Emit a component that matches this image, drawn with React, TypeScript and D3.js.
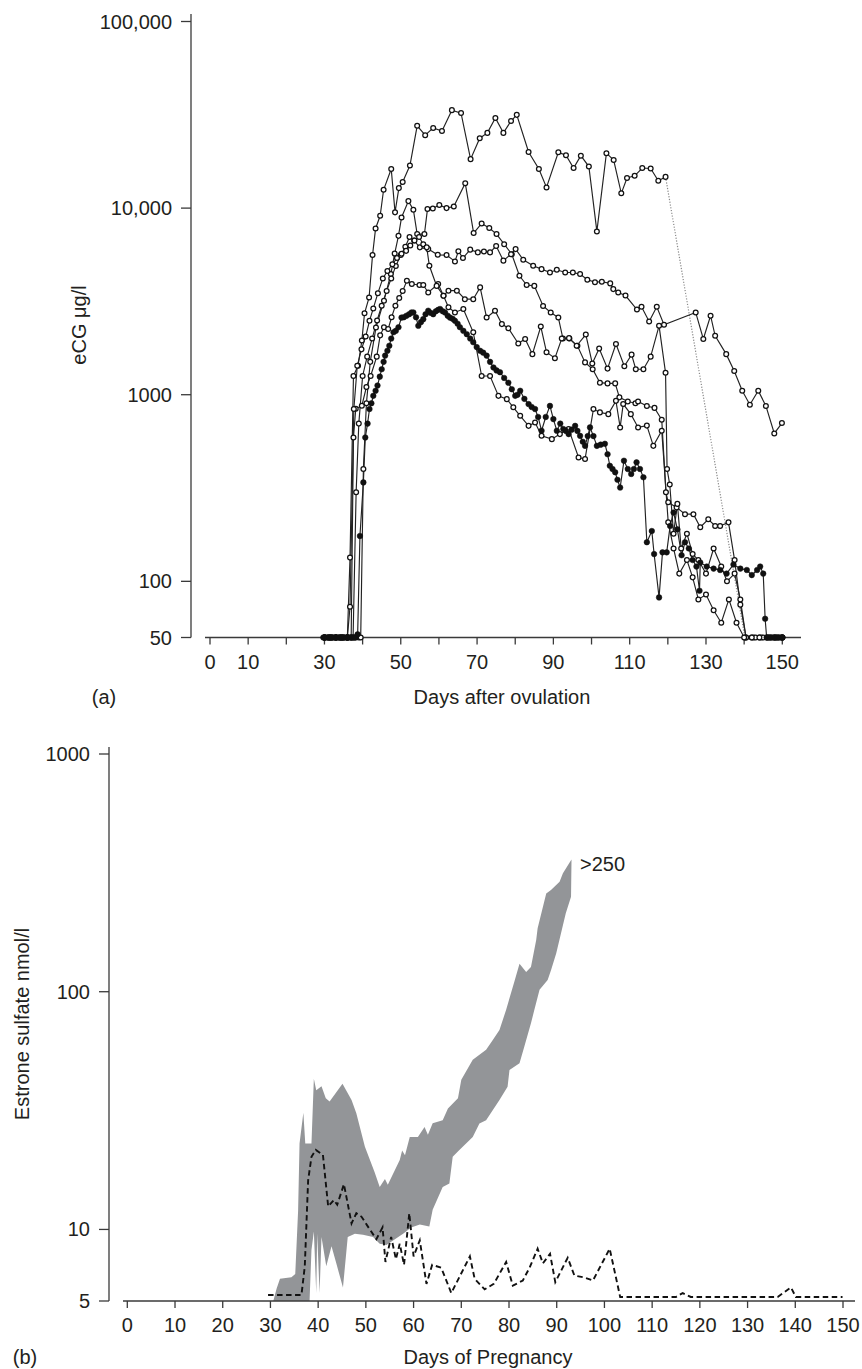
import React from 'react';
import * as d3 from 'd3';

type P = [number, number];

// ---------- Panel (a): eCG (µg/l) per mare, days after ovulation ----------
const mareA: P[] = [[30,50],[31,50],[32,50],[33,50],[34,50],[35,50],[36,50],[36.7,134],[37.6,1260],[38.8,1430],[39.8,1950],[40.5,2730],[41.7,3320],[42.6,5600],[43.4,7780],[44.6,9100],[45.5,12540],[47.5,16200],[48.5,9490],[49.5,12800],[50.5,13800],[52.4,16900],[54.3,27600],[56.4,24600],[58.5,26900],[60.8,25900],[63.4,33500],[65.8,32300],[68.3,18300],[70.7,23700],[72.7,25300],[74.8,30400],[76.9,25300],[78.9,29300],[80.4,31600],[83.5,20000],[86.2,16200],[88.2,12900],[91.3,19900],[93.3,19200],[95.3,16400],[97.2,19100],[99.3,16700],[101.4,7500],[103.9,19700],[105.8,18100],[107.8,12000],[109.3,14500],[111.3,14900],[113.3,16400],[115.5,16300],[117.5,14000],[119.4,14700]];
const mareATail: P[] = [[140.2,50],[142,50],[144,50],[146,50],[148,50],[150,50]];
const mareALink: P[] = [[119.4,14700],[140.2,50]];

const mareB: P[] = [[30,50],[31,50],[32,50],[33,50],[34,50],[35,50],[36,50],[37,50],[38,50],[39,50],[39.5,50],[40.2,400],[41,900],[42,1500],[43.5,2290],[45.6,3190],[47.4,4430],[48.4,5710],[49.4,7100],[50.2,8910],[52,10900],[53.3,9800],[54.3,7260],[56.2,7260],[57,9880],[58.4,9960],[60.1,10400],[62,10000],[63.9,10200],[66.9,13600],[69.1,7350],[71.2,8280],[73.2,7820],[75.1,7260],[77.1,6410],[79.1,5660],[81.1,4340],[83,3870],[85,3830],[87.3,2990],[89.3,2760],[91.3,2590],[92.5,2000],[94.2,2000],[96.3,1830],[98.3,1490],[100.3,1370],[102.2,1160],[104.2,1150],[106.2,1150],[107.3,968],[109.5,920],[111.5,900],[112.2,920],[114.5,870],[116.5,850],[118.4,735],[119.5,300],[120.1,265],[122.3,249],[124.5,229],[126.7,229],[128.5,195],[130.6,215],[132.4,198],[133.7,198],[135.9,207],[137.5,130],[139,75],[140.5,50],[142.5,50],[144.5,50],[146.5,50],[148.5,50],[150,50]];

const mareC: P[] = [[30,50],[31.5,50],[33,50],[34.5,50],[36,50],[37.5,50],[38.3,300],[39,700],[40,1260],[41.2,1600],[42.5,2000],[43.8,2500],[45,3000],[46.3,3600],[47.5,4200],[48.7,4900],[50,5600],[51.2,6200],[52.3,7000],[53.5,6700],[55,6160],[57.2,6030],[59.7,5620],[62,5600],[64.2,5180],[65.1,5870],[66.3,5400],[68.2,5990],[70.2,5790],[71.8,5860],[73.4,5790],[75,6260],[76.9,5230],[78.9,5660],[80.1,6030],[82.1,5290],[84.7,4910],[86.9,4710],[89.1,4520],[90.9,4670],[93.1,4520],[95.1,4520],[97,4430],[98.9,4130],[100.9,4010],[102.7,4030],[104.9,3950],[105.7,3680],[107,3530],[108.9,3400],[111.9,2860],[113.1,2960],[115.1,2470],[117.1,2960],[119,2370],[127.3,2760],[129.3,1990],[131.2,2650],[132.4,2070],[135.3,1650],[137.4,1340],[139.5,1050],[141.5,884],[143.7,1050],[145.7,871],[147.9,620],[149.9,705]];

const mareD: P[] = [[30,50],[31.5,50],[33,50],[34.5,50],[36,50],[37,50],[37.6,590],[38.2,840],[39.8,873],[41,1100],[42.1,1260],[43.7,1600],[44.6,2080],[45.6,2300],[46.7,2250],[47.6,2600],[48.6,3000],[49.6,3300],[50.5,3600],[51.6,4080],[52.9,3920],[54.9,3870],[55.9,3870],[57.2,3530],[59.8,3920],[61.2,3390],[62.5,3610],[64.7,3610],[66.8,3250],[69,3250],[70.8,3760],[72.5,2590],[74.7,2820],[76.5,2390],[78.2,2270],[80.8,1880],[82.6,1990],[84.5,1650],[86.7,2320],[88.2,1690],[90.4,1570],[92.2,2000],[94.1,2010],[96.1,1830],[98.5,2100],[100.2,1470],[102,1770],[104.2,1380],[106.4,1870],[108.6,1420],[110.5,1640],[111.6,1370],[113.6,1370],[115.5,1600],[117.7,2340],[119.4,1310],[119.8,400],[120.5,330],[121.5,180],[122.5,260],[123.5,150],[125,180],[126.5,140],[128,130],[130,110],[132,150],[134,120],[135.5,100],[137.5,110],[139,80],[140.5,50],[143,50],[145,50],[147,50],[149,50],[150,50]];

const mareE: P[] = [[30,50],[31.5,50],[33,50],[34.5,50],[36,50],[36.7,73],[37.7,838],[38.6,1430],[39.7,1750],[40.8,2050],[41.8,2490],[42.8,2900],[44,3500],[45.3,4200],[46.5,4600],[47.8,5000],[49,5400],[50.2,5700],[51.4,5900],[52.5,6300],[53.6,6700],[54.8,7000],[55.9,6400],[56.8,6160],[57.5,4910],[59.4,3830],[61.2,3390],[62.5,2940],[64.2,2760],[66.4,2880],[69,2160],[71.2,1260],[73.4,1260],[75.6,986],[77.8,947],[79.5,856],[81.3,771],[83.5,681],[85.2,709],[86.9,602],[89.6,578],[91.7,615],[94,655],[96.6,461],[98.3,452],[100.5,838],[102.2,804],[104.4,787],[106.4,927],[107.5,668],[108.3,891],[110.3,787],[112.2,668],[114.5,683],[116.2,532],[118.4,641],[120.1,207],[121.5,150],[123,110],[125,130],[126.5,105],[128,80],[130,85],[132,70],[134,60],[136,80],[138,60],[140,50],[142,50],[144,50],[146,50],[148,50],[150,50]];

const mareF: P[] = [[29.7,50],[30.2,50],[30.7,50],[31.2,50],[31.7,50],[32.2,50],[32.7,50],[33.2,50],[33.7,50],[34.2,50],[34.7,50],[35.2,50],[35.7,50],[36.2,50],[36.7,50],[37.2,50],[37.7,50],[38.2,50],[38.7,52],[39.3,175],[40.2,339],[40.7,590],[41.3,700],[41.8,838],[42.3,900],[42.8,986],[43.4,1050],[43.9,1120],[44.5,1250],[45,1370],[45.5,1500],[45.9,1620],[46.5,1720],[47,1830],[47.5,2000],[48.1,2160],[48.7,2200],[49.4,2300],[50.2,2590],[50.8,2600],[51.5,2650],[52.2,2700],[52.8,2760],[53.3,2760],[54,2600],[54.6,2340],[55.3,2450],[55.9,2540],[56.5,2700],[57.2,2820],[57.8,2750],[58.5,2700],[59.2,2800],[59.8,2850],[60.3,2880],[61,2800],[61.6,2760],[62.3,2650],[62.9,2590],[63.6,2550],[64.2,2490],[64.9,2400],[65.5,2300],[66.4,2200],[67.3,2110],[68.2,2000],[69,1910],[69.9,1800],[70.8,1720],[71.6,1680],[72.5,1620],[73.4,1500],[74.3,1400],[75.1,1350],[76,1320],[77.1,1230],[78.2,1160],[79.1,1070],[80,986],[80.6,1000],[81.3,1050],[82.4,950],[83.5,891],[84.3,860],[85.2,838],[86,760],[86.9,641],[88,760],[89.1,871],[90,740],[90.9,641],[91.8,700],[92.6,655],[93.3,640],[94,615],[94.8,650],[95.7,681],[96.3,640],[97,602],[97.7,560],[98.3,532],[99,600],[99.6,668],[100.5,600],[101.4,532],[102.4,540],[103.5,546],[104.2,480],[104.8,416],[105.5,400],[106.2,384],[106.8,350],[107.5,318],[108.5,443],[109.5,400],[110.4,376],[111.1,400],[111.8,434],[112.7,400],[113.6,361],[114.5,162],[115.8,186],[116.4,140],[117.7,82],[118.6,143],[119.7,143],[120.6,198],[121.5,234],[122.5,190],[123.6,138],[124.5,162],[125.5,150],[126.5,130],[127.5,120],[128.3,89],[128.5,126],[130.2,120],[132,117],[133.7,115],[135.4,110],[137.2,123],[139,117],[140.7,115],[142,108],[143.4,115],[144.2,120],[145,110],[145.5,63],[145.9,50],[146.5,50],[147,50],[147.5,50],[148,50],[148.5,50],[149,50],[149.5,50],[150,50]];

const openSeriesA: P[][] = [mareA, mareATail, mareB, mareC, mareD, mareE];
const filledSeriesA: P[][] = [mareF];

const yTicksA = [100000, 10000, 1000, 100, 50];
const yTickLabelsA = ['100,000', '10,000', '1000', '100', '50'];
const xTicksA = [0, 10, 20, 30, 40, 50, 60, 70, 80, 90, 100, 110, 120, 130, 140, 150];
const xLabelsA = [0, 10, 30, 50, 70, 90, 110, 130, 150];

// ---------- Panel (b): estrone sulfate (nmol/l), days of pregnancy ----------
const bandUpper: P[] = [[30.6,5.0],[31.3,5.65],[32,6.2],[34.4,6.3],[35.2,6.5],[35.8,12],[36.1,23],[36.9,31],[37.3,23],[38.6,23],[39.1,43],[39.6,38.5],[40.7,40],[41.6,35.6],[42.4,34.5],[45.1,41],[47,35],[48,30.8],[49.8,22.3],[51.8,17.5],[52.9,15.1],[54,16.3],[54.6,15.4],[57.1,19.6],[57.6,21.5],[58.2,20.5],[59.2,24.5],[60.9,24.5],[62.3,27],[63,25],[64,28],[66.1,28.8],[67.2,32.3],[69.3,35.6],[70,42.6],[72.4,51.7],[75.2,57],[76.6,62.7],[78,69],[79.4,84],[81.1,110],[82.2,131],[83.6,121],[84.6,127],[85.7,165],[86,185],[87.8,259],[88.8,268],[90.6,290],[91.3,315],[92.8,352],[93.1,360]];
const bandLower: P[] = [[30.6,5],[37.5,5],[38.2,5],[38.6,8.2],[39.1,9.8],[39.6,5.4],[39.8,9.6],[40.3,5.4],[40.7,9.3],[41.7,7],[42.8,8.5],[43.8,7.2],[45.2,5.7],[46.2,9.3],[47.7,9.6],[49.4,9.5],[51.5,9.3],[52.9,8.7],[54.3,8.6],[57.8,9.6],[59.5,10.2],[61.3,10.5],[63.3,10.3],[64,12.1],[66.1,15.1],[67.5,15.6],[68.2,20.2],[69.6,21.6],[72.4,24.5],[73.8,27.9],[75.2,28.8],[78,35],[79.7,39.8],[80.1,46.9],[82.2,50],[83.2,58.7],[84.6,73.6],[85.3,83.7],[86.4,102],[88.1,112],[88.8,123],[89.9,145],[90.9,176],[91.9,214],[93,251]];
const meanE1S: P[] = [[29.5,5.3],[36.5,5.3],[37.2,7],[37.9,16.1],[38.6,20.2],[39.5,21.6],[41,20.6],[42.1,12.5],[43.3,13.3],[44,12.7],[45.4,15.5],[47,10.6],[48,11.7],[49.1,11.3],[50.4,10.3],[52.2,9.1],[53.5,10.2],[54.1,7.3],[55.3,9.3],[56.3,7.5],[57.1,8.7],[58,7.1],[59.1,11.7],[60,7.7],[61.3,9.0],[62.7,5.9],[63.9,7.1],[65.8,6.9],[67.9,5.4],[71.8,7.7],[72.8,6.2],[74.9,5.6],[76.8,5.9],[79.4,7.3],[80.8,5.8],[82.9,6.1],[84.3,6.9],[86,8.3],[87.1,7.2],[88.6,7.9],[89.7,6.0],[92.3,7.6],[93.7,6.4],[95.5,6.3],[97.6,6.1],[101.1,8.3],[103.3,5.2],[115,5.2],[116.4,5.4],[118.1,5.2],[136.3,5.2],[139.1,5.7],[140.1,5.2],[149.9,5.2]];

const yTicksB = [1000, 100, 10, 5];
const xTicksB = [0, 10, 20, 30, 40, 50, 60, 70, 80, 90, 100, 110, 120, 130, 140, 150];

const FONT = '"Liberation Sans", Arial, Helvetica, sans-serif';
const INK = '#231f20';
const AXIS = '#3a3a3a';

export default function App() {
  const xA = d3.scaleLinear().domain([0, 150]).range([210, 782.3]);
  const yA = d3.scaleLog().domain([50, 100000]).range([637.5, 21.5]);
  const xB = d3.scaleLinear().domain([0, 150]).range([127.3, 843]);
  const yB = d3.scaleLog().domain([5, 1000]).range([1301, 754]);

  const lineA = d3.line<P>().x(d => xA(d[0])).y(d => yA(d[1]));
  const lineB = d3.line<P>().x(d => xB(d[0])).y(d => yB(d[1]));
  const bandPts: P[] = [...bandUpper, ...bandLower.slice().reverse()];
  const bandPath = lineB(bandPts) + 'Z';

  const r = 2.4;

  return (
    <svg width={862} height={1369} style={{ position: 'absolute', left: 0, top: 0, background: '#fff' }}
      fontFamily={FONT}>
      <rect x={0} y={0} width={862} height={1369} fill="#fff" />
      {/* ---------------- Panel (a) ---------------- */}
      <g>
        {/* y axis */}
        <line x1={191} x2={191} y1={14} y2={yA(50)} stroke={AXIS} strokeWidth={1.3} />
        {yTicksA.map((t, i) => (
          <g key={'ya' + t}>
            <line x1={181} x2={191} y1={yA(t)} y2={yA(t)} stroke={AXIS} strokeWidth={1.3} />
            <text x={172} y={yA(t)} dy="0.35em" textAnchor="end" fontSize={20} fill={INK}>{yTickLabelsA[i]}</text>
          </g>
        ))}
        {/* x axis */}
        <line x1={205} x2={801} y1={yA(50)} y2={yA(50)} stroke={AXIS} strokeWidth={1.3} />
        {xTicksA.map(t => (
          <line key={'xa' + t} x1={xA(t)} x2={xA(t)} y1={yA(50)} y2={yA(50) + 7} stroke={AXIS} strokeWidth={1.3} />
        ))}
        {xLabelsA.map(t => (
          <text key={'xla' + t} x={xA(t)} y={669} textAnchor="middle" fontSize={20} fill={INK}>{t}</text>
        ))}
        <text x={502} y={704} textAnchor="middle" fontSize={20} fill={INK}>Days after ovulation</text>
        <text x={104} y={704} textAnchor="middle" fontSize={20} fill={INK}>(a)</text>
        <text transform="translate(86,325) rotate(-90)" textAnchor="middle" fontSize={20} fill={INK}>eCG μg/l</text>

        {/* dotted link */}
        <path d={lineA(mareALink) || ''} fill="none" stroke="#8a8a8a" strokeWidth={1.2} strokeDasharray="1.2,1.6" />
        {/* lines */}
        {[...openSeriesA, ...filledSeriesA].map((s, i) => (
          <path key={'la' + i} d={lineA(s) || ''} fill="none" stroke="#222" strokeWidth={1.15} />
        ))}
        {/* markers */}
        {openSeriesA.map((s, i) => (
          <g key={'ma' + i}>
            {s.map((p, j) => (
              <circle key={j} cx={xA(p[0])} cy={yA(p[1])} r={r} fill="#fff" stroke="#111" strokeWidth={1.25} />
            ))}
          </g>
        ))}
        {filledSeriesA.map((s, i) => (
          <g key={'mf' + i}>
            {s.map((p, j) => (
              <circle key={j} cx={xA(p[0])} cy={yA(p[1])} r={r + 0.4} fill="#111" stroke="#111" strokeWidth={0.5} />
            ))}
          </g>
        ))}
      </g>

      {/* ---------------- Panel (b) ---------------- */}
      <g>
        <path d={bandPath} fill="#939598" stroke="none" />
        <path d={lineB(meanE1S) || ''} fill="none" stroke="#111" strokeWidth={1.9} strokeDasharray="5.5,3.5" />
        {/* y axis */}
        <line x1={109} x2={109} y1={747} y2={yB(5)} stroke={AXIS} strokeWidth={1.3} />
        {yTicksB.map(t => (
          <g key={'yb' + t}>
            <line x1={99} x2={109} y1={yB(t)} y2={yB(t)} stroke={AXIS} strokeWidth={1.3} />
            <text x={90} y={yB(t)} dy="0.35em" textAnchor="end" fontSize={20} fill={INK}>{t}</text>
          </g>
        ))}
        {/* x axis */}
        <line x1={123} x2={855} y1={yB(5)} y2={yB(5)} stroke={AXIS} strokeWidth={1.3} />
        {xTicksB.map(t => (
          <g key={'xb' + t}>
            <line x1={xB(t)} x2={xB(t)} y1={yB(5)} y2={yB(5) + 7} stroke={AXIS} strokeWidth={1.3} />
            <text x={xB(t)} y={1332} textAnchor="middle" fontSize={20} fill={INK}>{t}</text>
          </g>
        ))}
        <text x={488} y={1364} textAnchor="middle" fontSize={20} fill={INK}>Days of Pregnancy</text>
        <text x={25} y={1364} textAnchor="middle" fontSize={20} fill={INK}>(b)</text>
        <text transform="translate(29,1024) rotate(-90)" textAnchor="middle" fontSize={20} fill={INK}>Estrone sulfate nmol/l</text>
        <text x={580} y={871} fontSize={20} fill={INK}>&gt;250</text>
      </g>
    </svg>
  );
}
